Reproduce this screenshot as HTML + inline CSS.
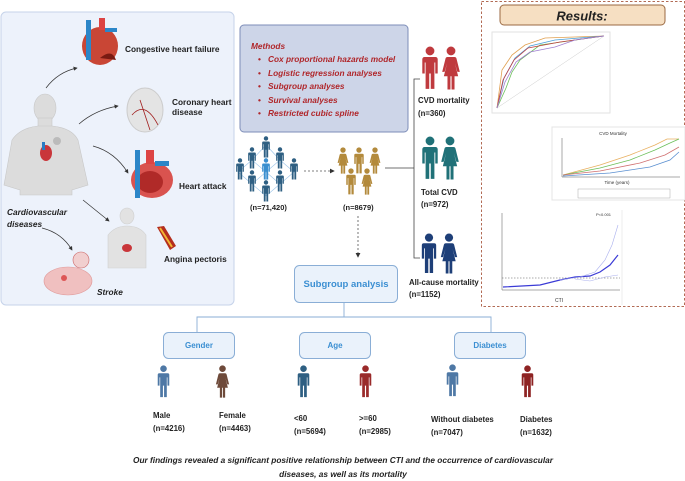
<!DOCTYPE html>
<html><head><meta charset="utf-8"><style>
body{margin:0;background:#fff;width:685px;height:481px;overflow:hidden;font-family:"Liberation Sans",sans-serif}
svg{display:block}
text{font-family:"Liberation Sans",sans-serif}
</style></head><body>
<svg width="685" height="481" viewBox="0 0 685 481" xmlns="http://www.w3.org/2000/svg">
<defs>
<symbol id="m" viewBox="0 0 16 40"><circle cx="8" cy="4.5" r="4"/><path d="M3,10h10a2,2 0 0 1 2,2v13h-2.2v-10h-0.8v24h-3.3v-14h-1.4v14h-3.3v-24h-0.8v10h-2.2v-13a2,2 0 0 1 2,-2z"/></symbol>
<symbol id="f" viewBox="0 0 16 40"><circle cx="8" cy="4.5" r="4"/><path d="M5,10h6a2,2 0 0 1 2,1.5l3,12h-2.2l-2.3-8 3,12h-3.3v12h-2.7v-12h-1v12h-2.7v-12h-3.3l3,-12-2.3,8h-2.2l3,-12a2,2 0 0 1 2,-1.5z"/></symbol>
<marker id="ar" markerWidth="6" markerHeight="6" refX="5" refY="3" orient="auto"><path d="M0,0L6,3L0,6z" fill="#333"/></marker>
</defs>

<!-- left panel -->
<rect x="1" y="12" width="233" height="293" rx="5" fill="#edf2fb" stroke="#c6d3ea"/>
<g fill="#dcdcdc" stroke="#c8c8c8" stroke-width="0.6">
<ellipse cx="45" cy="108" rx="11" ry="14"/>
<rect x="38" y="118" width="14" height="12"/>
<path d="M12,140 Q20,128 38,126 L52,126 Q72,128 78,140 L88,185 L72,190 L72,195 L20,195 L20,190 L4,185z"/>
</g>
<g fill="#c9363a"><ellipse cx="46" cy="153" rx="6" ry="8"/><rect x="42" y="142" width="3" height="8" fill="#2a7bc4"/></g>
<circle cx="57" cy="141" r="4" fill="#bbb"/>
<g><ellipse cx="100" cy="46" rx="18" ry="19" fill="#c94635"/><rect x="86" y="20" width="5" height="40" fill="#2c86c8"/><rect x="99" y="18" width="6" height="12" fill="#d44"/><rect x="105" y="28" width="12" height="4" fill="#2c86c8"/><path d="M100,58 Q112,48 116,60z" fill="#7a1a12"/></g>
<g><ellipse cx="145" cy="110" rx="18" ry="22" fill="#e4e4e4" stroke="#ccc"/><path d="M132,115 Q145,100 158,125 M140,100 L150,130" stroke="#a01c1c" fill="none" stroke-width="0.8"/></g>
<g><ellipse cx="152" cy="180" rx="21" ry="18" fill="#d9534f"/><ellipse cx="150" cy="182" rx="13" ry="11" fill="#b02a28"/><rect x="135" y="150" width="5" height="48" fill="#2c86c8"/><rect x="146" y="150" width="8" height="14" fill="#d44"/><rect x="155" y="161" width="14" height="5" fill="#2c86c8"/></g>
<g fill="#e2e2e2" stroke="#cfcfcf" stroke-width="0.6"><ellipse cx="127" cy="216" rx="7" ry="8"/><path d="M108,235 Q115,226 127,226 Q140,226 146,235 L146,268 L108,268z"/></g>
<ellipse cx="127" cy="248" rx="5" ry="4" fill="#c9363a"/>
<path d="M157,227 L164,226 L176,246 L170,250z" fill="#b42e1d"/><path d="M160,228 L172,247" stroke="#f2b533" stroke-width="2"/>
<circle cx="81" cy="260" r="8" fill="#f1cfcf" stroke="#c66" stroke-width="0.6"/>
<ellipse cx="68" cy="281" rx="24" ry="14" fill="#f0c0c0" stroke="#e09a9a" stroke-width="0.6"/>
<circle cx="64" cy="278" r="3" fill="#d55"/>
<g stroke="#333" fill="none" stroke-width="0.7" marker-end="url(#ar)">
<path d="M46,88 Q58,72 77,68"/><path d="M79,124 Q95,110 118,106"/><path d="M93,146 Q115,152 128,173"/><path d="M83,200 L109,221"/><path d="M42,228 Q62,233 72,250"/>
</g>
<g font-size="8.3" font-weight="bold" fill="#222">
<text x="125" y="52">Congestive heart failure</text>
<text x="172" y="105">Coronary heart</text><text x="172" y="115">disease</text>
<text x="179" y="189">Heart attack</text>
<text x="164" y="262">Angina pectoris</text>
<text x="97" y="295" font-style="italic">Stroke</text>
<text x="7" y="215" font-style="italic">Cardiovascular</text>
<text x="7" y="227" font-style="italic">diseases</text>
</g>

<rect x="240" y="25" width="168" height="107" rx="4" fill="#cdd5e8" stroke="#7d8db8"/>
<g font-size="8.3" font-weight="bold" font-style="italic" fill="#b0262a">
<text x="251" y="49">Methods</text>
<text x="268" y="62">Cox proportional hazards model</text>
<text x="268" y="76">Logistic regression analyses</text>
<text x="268" y="89">Subgroup analyses</text>
<text x="268" y="103">Survival analyses</text>
<text x="268" y="116">Restricted cubic spline</text>
<g font-style="normal"><text x="258" y="62">•</text><text x="258" y="76">•</text><text x="258" y="89">•</text><text x="258" y="103">•</text><text x="258" y="116">•</text></g>
</g>

<g stroke="#9cc4e8" stroke-width="0.6" fill="none">
<path d="M266,145 L252,160 L238,172 L252,184 L266,196 L280,184 L294,172 L280,160z M252,160 L266,172 L280,160 M252,184 L266,172 L280,184 M266,145 L266,196"/>
</g>
<g fill="#2e5f82">
<use href="#m" x="260" y="136" width="12" height="22"/><use href="#m" x="246" y="147" width="12" height="22"/><use href="#m" x="274" y="147" width="12" height="22"/>
<use href="#m" x="234" y="158" width="12" height="22"/><use href="#m" x="288" y="158" width="12" height="22"/>
<use href="#m" x="246" y="170" width="12" height="22"/><use href="#m" x="274" y="170" width="12" height="22"/><use href="#m" x="260" y="180" width="12" height="22"/>
</g>
<use href="#m" x="260" y="158" width="12" height="22" fill="#3a8fcf"/>
<line x1="304" y1="171" x2="334" y2="171" stroke="#555" stroke-width="0.8" stroke-dasharray="2,2" marker-end="url(#ar)"/>
<g fill="#b38a3c">
<use href="#f" x="336" y="147" width="14" height="27"/><use href="#m" x="352" y="147" width="14" height="27"/><use href="#f" x="368" y="147" width="14" height="27"/>
<use href="#m" x="344" y="168" width="14" height="27"/><use href="#f" x="360" y="168" width="14" height="27"/>
</g>
<g font-size="7.5" font-weight="bold" fill="#222"><text x="250" y="210">(n=71,420)</text><text x="343" y="210">(n=8679)</text></g>
<line x1="358" y1="216" x2="358" y2="257" stroke="#555" stroke-width="0.8" stroke-dasharray="2,2" marker-end="url(#ar)"/>
<g stroke="#444" stroke-width="0.8" fill="none"><path d="M385,168 L414,168 M420,79 L414,79 L414,258 L420,258"/></g>
<use href="#m" x="420" y="46" width="20" height="44" fill="#bf3a3e"/><use href="#f" x="441" y="46" width="20" height="44" fill="#bf3a3e"/>
<use href="#m" x="420" y="136" width="20" height="44" fill="#207178"/><use href="#f" x="440" y="136" width="20" height="44" fill="#207178"/>
<use href="#m" x="420" y="233" width="18" height="41" fill="#1e3f78"/><use href="#f" x="440" y="233" width="18" height="41" fill="#1e3f78"/>
<g font-size="7.8" font-weight="bold" fill="#222">
<text x="418" y="103">CVD mortality</text><text x="418" y="116">(n=360)</text>
<text x="421" y="195">Total CVD</text><text x="421" y="207">(n=972)</text>
<text x="409" y="285">All-cause mortality</text><text x="409" y="297">(n=1152)</text>
</g>

<rect x="481.5" y="1.5" width="203" height="305" fill="none" stroke="#b26b55" stroke-dasharray="2.5,2"/>
<rect x="500" y="5" width="165" height="20" rx="4" fill="#f6dfc2" stroke="#9b6a43"/>
<text x="582" y="20.5" font-size="13" font-weight="bold" font-style="italic" text-anchor="middle" fill="#222">Results:</text>
<rect x="492" y="32" width="118" height="81" fill="#fff" stroke="#e2e2e2"/>
<line x1="497" y1="108" x2="604" y2="36" stroke="#ccc" stroke-width="0.5"/>
<g fill="none" stroke-width="0.8">
<path d="M497,108 L502,70 L512,55 L525,45 L545,38 L604,36" stroke="#e0a050"/>
<path d="M497,108 L504,78 L515,58 L530,46 L555,40 L604,36" stroke="#4aa0d8"/>
<path d="M497,108 L506,88 L512,72 L520,60 L540,45 L604,36" stroke="#6cbf5a"/>
<path d="M497,108 L503,80 L514,60 L528,48 L560,42 L604,36" stroke="#c04040"/>
<path d="M497,108 L505,82 L516,62 L530,52 L555,47 L575,40 L604,36" stroke="#a080d0"/>
</g>
<rect x="552" y="127" width="133" height="73" fill="#fff" stroke="#e4e4e4"/>
<text x="613" y="135" font-size="4.5" fill="#333" text-anchor="middle">CVD Mortality</text>
<path d="M562,138 L562,177 L680,177" stroke="#555" fill="none" stroke-width="0.5"/>
<g fill="none" stroke-width="0.8">
<path d="M563,175 L600,165 L630,155 L655,145 L667,139 L679,139" stroke="#e8b060"/>
<path d="M563,175 L600,168 L630,160 L655,150 L670,143 L679,139" stroke="#6cbf5a"/>
<path d="M563,175 L600,171 L640,163 L665,155 L679,147" stroke="#d07070"/>
<path d="M563,176 L610,173 L650,167 L670,160 L679,152" stroke="#5a8fd0"/>
</g>
<text x="617" y="184" font-size="4.5" fill="#333" text-anchor="middle">Time (years)</text>
<rect x="578" y="189" width="92" height="9" fill="#fff" stroke="#999" stroke-width="0.4"/>
<line x1="622" y1="210" x2="622" y2="305" stroke="#ddd" stroke-width="0.5"/>
<path d="M502,213 L502,290 L620,290" stroke="#555" fill="none" stroke-width="0.5"/>
<line x1="502" y1="278" x2="620" y2="278" stroke="#555" stroke-dasharray="1.5,1.5" stroke-width="0.5"/>
<path d="M503,287 L540,285 L560,280 L575,277 L590,276 L600,272 L610,265 L618,255" stroke="#3b3bd6" fill="none" stroke-width="1.2"/>
<path d="M560,280 L580,277 L595,272 L605,260 L612,245 L618,225" stroke="#aab0ee" fill="none" stroke-width="0.6"/>
<path d="M575,279 L590,281 L605,277 L618,275" stroke="#aab0ee" fill="none" stroke-width="0.6"/>
<text x="559" y="302" font-size="5" fill="#333" text-anchor="middle">CTI</text>
<text x="596" y="216" font-size="4" fill="#333">P&lt;0.001</text>

<rect x="294.5" y="265.5" width="103" height="37" rx="5" fill="#eaf2fb" stroke="#8aaed6"/>
<text x="346" y="287" font-size="9.5" font-weight="bold" fill="#3b8fd2" text-anchor="middle">Subgroup analysis</text>
<g stroke="#8aaed6" fill="none" stroke-width="0.9"><path d="M344,302 L344,317 M197,332 L197,317 L491,317 L491,332"/></g>
<g fill="#eaf2fb" stroke="#8aaed6"><rect x="163.5" y="332.5" width="71" height="26" rx="5"/><rect x="299.5" y="332.5" width="71" height="26" rx="5"/><rect x="454.5" y="332.5" width="71" height="26" rx="5"/></g>
<g font-size="8" font-weight="bold" fill="#3b8fd2" text-anchor="middle"><text x="199" y="348">Gender</text><text x="335" y="348">Age</text><text x="490" y="348">Diabetes</text></g>
<use href="#m" x="156" y="365" width="15" height="33" fill="#4e78a5"/>
<use href="#f" x="215" y="365" width="15" height="33" fill="#6e4a3a"/>
<use href="#m" x="296" y="365" width="15" height="33" fill="#2e5f82"/>
<use href="#m" x="358" y="365" width="15" height="33" fill="#9a2a2a"/>
<use href="#m" x="445" y="364" width="15" height="33" fill="#4e78a5"/>
<use href="#m" x="520" y="365" width="15" height="33" fill="#8e2323"/>
<g font-size="7.8" font-weight="bold" fill="#222">
<text x="153" y="418">Male</text><text x="153" y="431">(n=4216)</text>
<text x="219" y="418">Female</text><text x="219" y="431">(n=4463)</text>
<text x="294" y="421">&lt;60</text><text x="294" y="434">(n=5694)</text>
<text x="359" y="421">&gt;=60</text><text x="359" y="434">(n=2985)</text>
<text x="431" y="422">Without diabetes</text><text x="431" y="435">(n=7047)</text>
<text x="520" y="422">Diabetes</text><text x="520" y="435">(n=1632)</text>
</g>
<g font-size="8.3" font-weight="bold" font-style="italic" fill="#222" text-anchor="middle">
<text x="343" y="463">Our findings revealed a significant positive relationship between CTI and the occurrence of cardiovascular</text>
<text x="343" y="477">diseases, as well as its mortality</text>
</g>
</svg>
</body></html>
